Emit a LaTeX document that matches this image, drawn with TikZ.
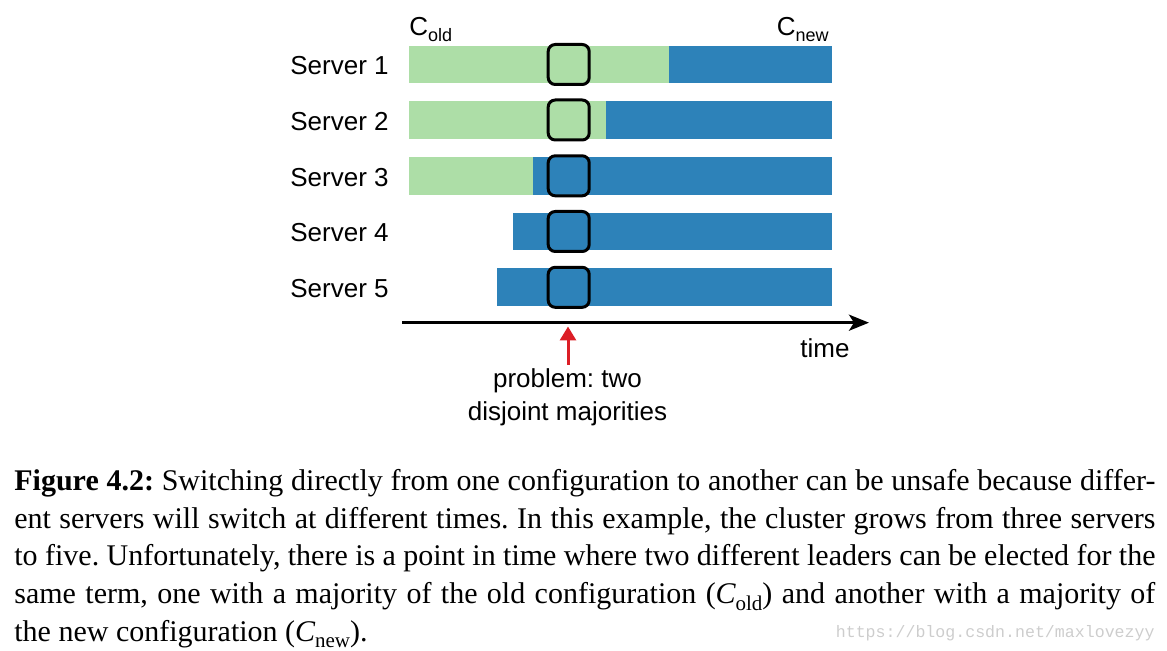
\documentclass[tikz,border=0pt]{standalone}
\usepackage{fontspec}
\setmainfont{Liberation Serif}
\setsansfont{Liberation Sans}
\setmonofont{Liberation Mono}
\usetikzlibrary{arrows.meta}
\definecolor{oldg}{RGB}{173,222,167}
\definecolor{newb}{RGB}{45,130,185}
\definecolor{arrred}{RGB}{220,30,38}
\definecolor{wmgray}{RGB}{205,205,205}
\newcommand{\capsub}[1]{\raisebox{-0.22em}{\fontsize{10.5}{10.5}\selectfont #1}}
\newcommand{\lblsub}[1]{\raisebox{-3pt}{\fontsize{9}{9}\selectfont #1}}
\frenchspacing
\begin{document}
\begin{tikzpicture}[x=0.5pt,y=-0.5pt,
  lbl/.style={font=\sffamily\fontsize{13}{15}\selectfont, inner sep=0pt},
  oldbar/.style={fill=oldg},
  newbar/.style={fill=newb},
  win/.style={draw=black, line width=1.5pt, rounded corners=3.5pt, minimum width=20.5pt, minimum height=20pt, inner sep=0pt},
  capline/.style={font=\fontsize{15}{18.75}\selectfont, inner sep=0pt, anchor=base west},
  axis/.style={line width=1.5pt, -{Stealth[length=10pt,width=8pt,inset=2.5pt]}},
  probarrow/.style={draw=arrred, line width=1.5pt, -{Triangle[length=7pt,width=8pt]}, arrred},
]
\useasboundingbox (0,0) rectangle (1167,651);

% bars
\fill[oldbar] (409,45.8) rectangle (669,83.3);
\fill[newbar] (669,45.8) rectangle (832,83.3);
\fill[oldbar] (409,101.15) rectangle (606,138.85);
\fill[newbar] (606,101.15) rectangle (832,138.85);
\fill[oldbar] (409,156.95) rectangle (533,194.65);
\fill[newbar] (533,156.95) rectangle (832,194.65);
\fill[newbar] (513,212.65) rectangle (832,250.35);
\fill[newbar] (497,268.45) rectangle (832,306.15);

% windows
\node[win] (w1) at (568.7,64.5) {};
\node[win] (w2) at (568.7,120) {};
\node[win] (w3) at (568.7,175.8) {};
\node[win] (w4) at (568.7,231.5) {};
\node[win] (w5) at (568.7,287.3) {};

% labels
\node[lbl, anchor=base east] (s1) at (389,74.6) {Server 1};
\node[lbl, anchor=base east] (s2) at (389,130.3) {Server 2};
\node[lbl, anchor=base east] (s3) at (389,186.1) {Server 3};
\node[lbl, anchor=base east] (s4) at (389,241.8) {Server 4};
\node[lbl, anchor=base east] (s5) at (389,297.6) {Server 5};
\node[lbl, anchor=base west] (cold) at (409,36) {C\lblsub{old}};
\node[lbl, anchor=base east] (cnew) at (829,36) {C\lblsub{new}};

% time axis
\coordinate (t0) at (402,322.7);
\coordinate (t1) at (869,322.7);
\draw[axis] (t0) -- (t1);
\node[lbl, anchor=base west] (time) at (800,358) {time};

% problem
\node[lbl, anchor=base] (p1) at (567.5,388) {problem: two};
\node[lbl, anchor=base] (p2) at (567.5,420.5) {disjoint majorities};
\coordinate (ptip) at (568,326.5);
\draw[probarrow] ([shift={(0.5,-4)}]p1.north) -- (ptip);

% caption
\node[capline] (c1) at (14,491) {\makebox[570.5pt][s]{\textbf{Figure 4.2:} Switching directly from one configuration to another can be unsafe because differ-}};
\node[capline] (c2) at (14,528.5) {\makebox[570.5pt][s]{ent servers will switch at different times. In this example, the cluster grows from three servers}};
\node[capline] (c3) at (14,566) {\makebox[570.5pt][s]{to five. Unfortunately, there is a point in time where two different leaders can be elected for the}};
\node[capline] (c4) at (14,603.5) {\makebox[570.5pt][s]{same term, one with a majority of the old configuration ({\itshape C}\capsub{old}) and another with a majority of}};
\node[capline] (c5) at (14,641) {the new configuration ({\itshape C}\capsub{new}).};

% watermark
\node[inner sep=0pt, anchor=base east, text=wmgray, font=\ttfamily\fontsize{8.3}{10}\selectfont] (wm) at (1155,638) {https://blog.csdn.net/maxlovezyy};
\end{tikzpicture}
\end{document}
